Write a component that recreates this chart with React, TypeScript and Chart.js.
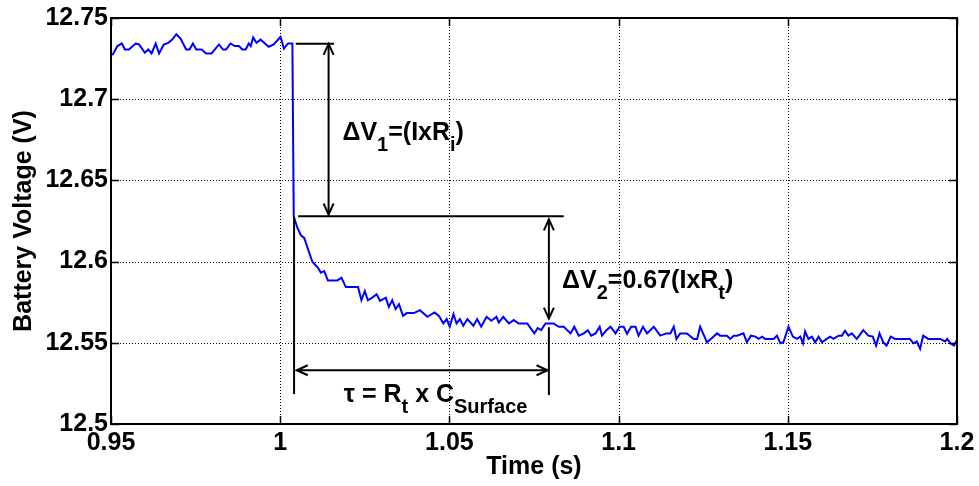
import React, { useEffect, useRef } from 'react';
import { Chart, registerables } from 'chart.js';

Chart.register(...registerables);

// ---- measured battery voltage trace ----
const timeS = [
  0.9504, 0.9519, 0.9532, 0.9541, 0.9553, 0.9573, 0.9583, 0.9600, 0.9610, 0.9620,
  0.9632, 0.9642, 0.9656, 0.9669, 0.9681, 0.9693, 0.9706, 0.9722, 0.9732, 0.9742,
  0.9752, 0.9768, 0.9781, 0.9797, 0.9819, 0.9831, 0.9840, 0.9853, 0.9866, 0.9878,
  0.9888, 0.9898, 0.9907, 0.9913, 0.9920, 0.9930, 0.9942, 0.9955, 0.9966, 0.9981,
  1.0001, 1.0011, 1.0023, 1.0036,
  1.0040, 1.0051, 1.0061, 1.0071, 1.0081, 1.0095, 1.0105, 1.0112, 1.0120, 1.0130,
  1.0141, 1.0159, 1.0169, 1.0181, 1.0194, 1.0213, 1.0230, 1.0240, 1.0250, 1.0259,
  1.0272, 1.0285, 1.0295, 1.0312, 1.0321, 1.0331, 1.0341, 1.0351, 1.0363, 1.0374,
  1.0395, 1.0413, 1.0435, 1.0456, 1.0469, 1.0482, 1.0492, 1.0501, 1.0512, 1.0521,
  1.0531, 1.0541, 1.0553, 1.0571, 1.0582, 1.0594, 1.0610, 1.0624, 1.0639, 1.0646,
  1.0659, 1.0676, 1.0690, 1.0705, 1.0730, 1.0751, 1.0761, 1.0771, 1.0784, 1.0808,
  1.0823, 1.0838, 1.0858, 1.0869, 1.0882, 1.0897, 1.0909, 1.0919, 1.0932, 1.0944,
  1.0951, 1.0964, 1.0976, 1.0991, 1.1003, 1.1015, 1.1025, 1.1037, 1.1050, 1.1059,
  1.1072, 1.1084, 1.1104, 1.1123, 1.1141, 1.1153, 1.1163, 1.1171, 1.1182, 1.1202,
  1.1222, 1.1232, 1.1241, 1.1261, 1.1276, 1.1291, 1.1300, 1.1320, 1.1330, 1.1340,
  1.1350, 1.1369, 1.1379, 1.1391, 1.1404, 1.1414, 1.1424, 1.1433, 1.1458, 1.1468,
  1.1478, 1.1487, 1.1502, 1.1515, 1.1527, 1.1537, 1.1545, 1.1551, 1.1561, 1.1571,
  1.1581, 1.1591, 1.1601, 1.1615, 1.1625, 1.1635, 1.1650, 1.1660, 1.1669, 1.1679,
  1.1689, 1.1704, 1.1723, 1.1738, 1.1751, 1.1761, 1.1771, 1.1782, 1.1792, 1.1804,
  1.1817, 1.1861, 1.1871, 1.1881, 1.1891, 1.1900, 1.1915, 1.1950, 1.1965, 1.1971,
  1.1981, 1.1991, 1.2000,
];
const voltageV = [
  12.7270, 12.7327, 12.7343, 12.7306, 12.7306, 12.7343, 12.7337, 12.7286, 12.7306, 12.7282,
  12.7343, 12.7282, 12.7337, 12.7347, 12.7367, 12.7400, 12.7372, 12.7306, 12.7306, 12.7343,
  12.7306, 12.7306, 12.7282, 12.7282, 12.7337, 12.7306, 12.7306, 12.7343, 12.7327, 12.7327,
  12.7306, 12.7306, 12.7343, 12.7327, 12.7380, 12.7347, 12.7367, 12.7343, 12.7323, 12.7337,
  12.7384, 12.7311, 12.7343, 12.7343,
  12.6278, 12.6207, 12.6162, 12.6146, 12.6084, 12.5999, 12.5976, 12.5962, 12.5931, 12.5941,
  12.5884, 12.5884, 12.5884, 12.5901, 12.5843, 12.5843, 12.5843, 12.5762, 12.5819, 12.5762,
  12.5778, 12.5799, 12.5758, 12.5778, 12.5721, 12.5762, 12.5707, 12.5738, 12.5666, 12.5683,
  12.5683, 12.5701, 12.5660, 12.5687, 12.5666, 12.5619, 12.5646, 12.5599, 12.5677, 12.5619,
  12.5646, 12.5605, 12.5646, 12.5605, 12.5646, 12.5599, 12.5660, 12.5636, 12.5660, 12.5625,
  12.5660, 12.5619, 12.5640, 12.5619, 12.5619, 12.5558, 12.5591, 12.5578, 12.5619, 12.5619,
  12.5599, 12.5599, 12.5558, 12.5599, 12.5544, 12.5558, 12.5578, 12.5544, 12.5558, 12.5599,
  12.5544, 12.5578, 12.5599, 12.5558, 12.5599, 12.5599, 12.5555, 12.5599, 12.5599, 12.5544,
  12.5599, 12.5558, 12.5599, 12.5544, 12.5558, 12.5558, 12.5599, 12.5524, 12.5558, 12.5558,
  12.5524, 12.5524, 12.5599, 12.5503, 12.5530, 12.5558, 12.5544, 12.5544, 12.5524, 12.5544,
  12.5544, 12.5558, 12.5503, 12.5544, 12.5538, 12.5524, 12.5538, 12.5524, 12.5524, 12.5544,
  12.5497, 12.5503, 12.5599, 12.5538, 12.5524, 12.5538, 12.5497, 12.5570, 12.5524, 12.5538,
  12.5503, 12.5538, 12.5503, 12.5524, 12.5538, 12.5524, 12.5544, 12.5544, 12.5574, 12.5544,
  12.5558, 12.5524, 12.5578, 12.5544, 12.5538, 12.5483, 12.5558, 12.5503, 12.5483, 12.5538,
  12.5524, 12.5524, 12.5497, 12.5508, 12.5463, 12.5544, 12.5524, 12.5524, 12.5508, 12.5524,
  12.5497, 12.5483, 12.5518,
];

// ---- axes ----
const xTickValues = [0.95, 1.0, 1.05, 1.1, 1.15, 1.2];
const xTickLabels = ['0.95', '1', '1.05', '1.1', '1.15', '1.2'];
const yTickValues = [12.5, 12.55, 12.6, 12.65, 12.7, 12.75];
const yTickLabels = ['12.5', '12.55', '12.6', '12.65', '12.7', '12.75'];
const xTitle = 'Time (s)';
const yTitle = 'Battery Voltage (V)';

// ---- annotations (data units) ----
const levelLines = [
  { x1: 1.0046, x2: 1.0159, y: 12.7341 },
  { x1: 1.0053, x2: 1.0838, y: 12.628 },
];
const boundaryLines = [
  { x: 1.0041, y1: 12.6278, y2: 12.5184 },
  { x: 1.0794, y1: 12.5596, y2: 12.5178 },
];
const verticalArrows = [
  { x: 1.0143, y1: 12.7341, y2: 12.629 },
  { x: 1.0794, y1: 12.626, y2: 12.5649 },
];
const horizontalArrows = [{ y: 12.5331, x1: 1.0049, x2: 1.079 }];
// parts: [text, isSubscript]
const textLabels: { x: number; y: number; parts: [string, boolean][] }[] = [
  { x: 1.0184, y: 12.6748, parts: [['\u0394V', false], ['1', true], ['=(IxR', false], ['i', true], [')', false]] },
  { x: 1.0833, y: 12.584, parts: [['\u0394V', false], ['2', true], ['=0.67(IxR', false], ['t', true], [')', false]] },
  { x: 1.0188, y: 12.5135, parts: [['\u03C4 = R', false], ['t', true], [' x C', false], ['Surface', true]] },
];

const FONT = "'Liberation Sans', Arial, Helvetica, sans-serif";
const MAIN_SIZE = 25;
const SUB_SIZE = 20;
const SUB_DROP = 11;

function arrowHead(ctx: CanvasRenderingContext2D, x: number, y: number, dx: number, dy: number) {
  // (dx,dy) unit vector pointing in the arrow direction; tip at (x,y)
  const len = 11;
  const half = 5;
  const bx = x - dx * len;
  const by = y - dy * len;
  const px = -dy;
  const py = dx;
  ctx.beginPath();
  ctx.moveTo(bx + px * half, by + py * half);
  ctx.lineTo(x, y);
  ctx.lineTo(bx - px * half, by - py * half);
  ctx.stroke();
}

const matlabPlugin = {
  id: 'matlabDecor',
  beforeDatasetsDraw(chart: any) {
    const { ctx, chartArea: a, scales } = chart;
    ctx.save();
    ctx.strokeStyle = '#000';
    ctx.lineWidth = 1;
    ctx.setLineDash([1, 2]);
    xTickValues.slice(1, -1).forEach((v) => {
      const x = Math.round(scales.x.getPixelForValue(v)) + 0.5;
      ctx.beginPath();
      ctx.moveTo(x, a.top);
      ctx.lineTo(x, a.bottom);
      ctx.stroke();
    });
    yTickValues.slice(1, -1).forEach((v) => {
      const y = Math.round(scales.y.getPixelForValue(v)) + 0.5;
      ctx.beginPath();
      ctx.moveTo(a.left, y);
      ctx.lineTo(a.right, y);
      ctx.stroke();
    });
    ctx.restore();
  },
  afterDatasetsDraw(chart: any) {
    const { ctx, scales } = chart;
    const X = (v: number) => scales.x.getPixelForValue(v);
    const Y = (v: number) => scales.y.getPixelForValue(v);
    ctx.save();
    ctx.strokeStyle = '#000';
    ctx.fillStyle = '#000';
    ctx.lineWidth = 2;
    ctx.setLineDash([]);
    ctx.lineCap = 'butt';
    levelLines.forEach((l) => {
      ctx.beginPath();
      ctx.moveTo(X(l.x1), Y(l.y));
      ctx.lineTo(X(l.x2), Y(l.y));
      ctx.stroke();
    });
    boundaryLines.forEach((l) => {
      ctx.beginPath();
      ctx.moveTo(X(l.x), Y(l.y1));
      ctx.lineTo(X(l.x), Y(l.y2));
      ctx.stroke();
    });
    verticalArrows.forEach((l) => {
      const x = X(l.x);
      const yt = Y(l.y1);
      const yb = Y(l.y2);
      ctx.beginPath();
      ctx.moveTo(x, yt);
      ctx.lineTo(x, yb);
      ctx.stroke();
      arrowHead(ctx, x, yt, 0, -1);
      arrowHead(ctx, x, yb, 0, 1);
    });
    horizontalArrows.forEach((l) => {
      const y = Y(l.y);
      const xl = X(l.x1);
      const xr = X(l.x2);
      ctx.beginPath();
      ctx.moveTo(xl, y);
      ctx.lineTo(xr, y);
      ctx.stroke();
      arrowHead(ctx, xl, y, -1, 0);
      arrowHead(ctx, xr, y, 1, 0);
    });
    ctx.textBaseline = 'alphabetic';
    ctx.textAlign = 'left';
    textLabels.forEach((t) => {
      let cx = X(t.x);
      const by = Y(t.y);
      t.parts.forEach(([s, sub]) => {
        ctx.font = `bold ${sub ? SUB_SIZE : MAIN_SIZE}px ${FONT}`;
        ctx.fillText(s, cx, sub ? by + SUB_DROP : by);
        cx += ctx.measureText(s).width;
      });
    });
    ctx.restore();
  },
  afterDraw(chart: any) {
    const { ctx, chartArea: a, scales } = chart;
    ctx.save();
    ctx.strokeStyle = '#000';
    ctx.setLineDash([]);
    ctx.lineWidth = 1.5;
    const tl = 8;
    xTickValues.forEach((v) => {
      const x = Math.round(scales.x.getPixelForValue(v)) + 0.5;
      ctx.beginPath();
      ctx.moveTo(x, a.bottom);
      ctx.lineTo(x, a.bottom - tl);
      ctx.moveTo(x, a.top);
      ctx.lineTo(x, a.top + tl);
      ctx.stroke();
    });
    yTickValues.forEach((v) => {
      const y = Math.round(scales.y.getPixelForValue(v)) + 0.5;
      ctx.beginPath();
      ctx.moveTo(a.left, y);
      ctx.lineTo(a.left + tl, y);
      ctx.moveTo(a.right, y);
      ctx.lineTo(a.right - tl, y);
      ctx.stroke();
    });
    ctx.lineWidth = 2;
    ctx.strokeRect(a.left, a.top, a.right - a.left, a.bottom - a.top);
    ctx.restore();
  },
};

export default function App() {
  const canvasRef = useRef<HTMLCanvasElement | null>(null);

  useEffect(() => {
    if (!canvasRef.current) return;
    const points = timeS.map((t, i) => ({ x: t, y: voltageV[i] }));
    const chart = new Chart(canvasRef.current, {
      type: 'line',
      data: {
        datasets: [
          {
            data: points,
            borderColor: '#0000ff',
            borderWidth: 2,
            pointRadius: 0,
            tension: 0,
            fill: false,
          },
        ],
      },
      options: {
        animation: false,
        responsive: false,
        devicePixelRatio: 1,
        events: [],
        layout: { padding: { left: 0, right: 22, top: 15, bottom: 0 } },
        plugins: { legend: { display: false }, tooltip: { enabled: false } },
        scales: {
          x: {
            type: 'linear',
            min: 0.95,
            max: 1.2,
            grid: { display: false, drawTicks: false },
            border: { display: false },
            afterBuildTicks: (s: any) => {
              s.ticks = xTickValues.map((v) => ({ value: v }));
            },
            afterFit: (s: any) => {
              s.height = 62;
            },
            ticks: {
              autoSkip: false,
              maxRotation: 0,
              padding: 4,
              color: '#000',
              font: { family: FONT, size: MAIN_SIZE, weight: 'bold' },
              callback: (_v: any, i: number) => xTickLabels[i],
            },
            title: {
              display: true,
              text: xTitle,
              color: '#000',
              font: { family: FONT, size: MAIN_SIZE, weight: 'bold' },
              padding: { top: 0, bottom: 4 },
            },
          },
          y: {
            type: 'linear',
            min: 12.5,
            max: 12.75,
            grid: { display: false, drawTicks: false },
            border: { display: false },
            afterBuildTicks: (s: any) => {
              s.ticks = yTickValues.map((v) => ({ value: v }));
            },
            afterFit: (s: any) => {
              s.width = 111;
            },
            ticks: {
              autoSkip: false,
              padding: 3,
              color: '#000',
              font: { family: FONT, size: MAIN_SIZE, weight: 'bold' },
              callback: (_v: any, i: number) => yTickLabels[i],
            },
            title: {
              display: true,
              text: yTitle,
              color: '#000',
              font: { family: FONT, size: MAIN_SIZE, weight: 'bold' },
              padding: { top: 9, bottom: 0 },
            },
          },
        },
      },
      plugins: [matlabPlugin],
    } as any);
    return () => chart.destroy();
  }, []);

  return (
    <div style={{ position: 'fixed', left: 0, top: 0, width: 979, height: 486, background: '#fff' }}>
      <canvas ref={canvasRef} width={979} height={486} style={{ display: 'block' }} />
    </div>
  );
}
